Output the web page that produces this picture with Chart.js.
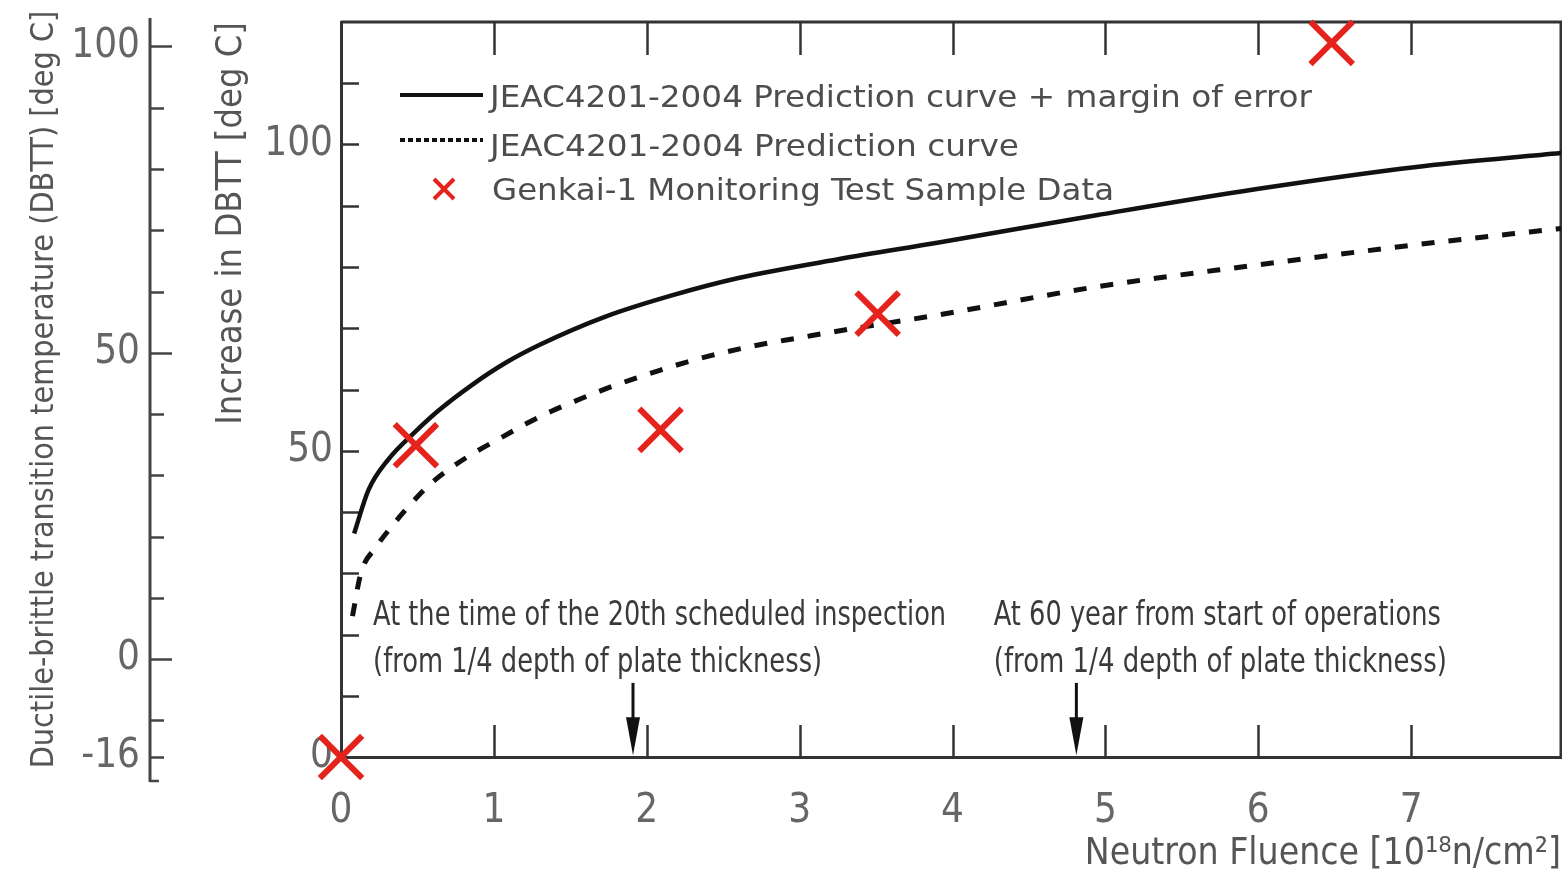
<!DOCTYPE html>
<html><head><meta charset="utf-8">
<script src="https://cdn.jsdelivr.net/npm/chart.js@4.4.1/dist/chart.umd.min.js"></script>
<style>html,body{margin:0;padding:0;background:#fff;overflow:hidden}#wrap{width:1562px;height:877px;position:relative}</style>
</head><body><div id="wrap"><canvas id="c"></canvas></div>
<script>
// ---- data ----
const fluenceMargin = [0.086, 0.18, 0.31, 0.49, 0.64, 0.86, 1.08, 1.30, 1.73, 2.17, 2.60, 3.26, 3.91, 4.95, 5.98, 7.02, 7.98];
const dbttMargin    = [36.5, 43.6, 48.6, 53.2, 56.6, 60.8, 64.4, 67.3, 71.9, 75.4, 78.2, 81.3, 84.0, 88.5, 92.7, 96.3, 98.6];
const fluencePred = [0.075, 0.13, 0.23, 0.33, 0.46, 0.59, 0.73, 0.88, 1.06, 1.21, 1.38, 1.56, 1.73, 1.91, 2.08, 2.25, 2.43, 2.62, 2.80, 2.99, 3.17, 3.91, 4.95, 5.98, 7.02, 7.98];
const dbttPred    = [23.0, 30.0, 34.3, 37.6, 41.4, 44.7, 47.4, 49.8, 52.3, 54.4, 56.5, 58.4, 60.1, 61.7, 63.1, 64.4, 65.6, 66.7, 67.6, 68.4, 69.2, 72.2, 76.8, 80.3, 83.6, 86.3];
const sampleFluence = [0, 0.49, 2.09, 3.51, 6.48];
const sampleDbtt    = [0, 50.9, 53.4, 72.4, 116.6];
const xTickValues = [0, 1, 2, 3, 4, 5, 6, 7];
const innerTickValues = [0, 10, 20, 30, 40, 50, 60, 70, 80, 90, 100, 110];
const innerLabelValues = [0, 50, 100];
const outerTickValues = [-16, -10, 0, 10, 20, 30, 40, 50, 60, 70, 80, 90, 100];
const outerLabelValues = [-16, 0, 50, 100];
const legendLabels = ['JEAC4201-2004 Prediction curve + margin of error', 'JEAC4201-2004 Prediction curve', 'Genkai-1 Monitoring Test Sample Data'];
const arrowFluence = [1.91, 4.81];
const noteLines = [
  ['At the time of the 20th scheduled inspection', '(from 1/4 depth of plate thickness)'],
  ['At 60 year from start of operations', '(from 1/4 depth of plate thickness)']
];
const xTitle = 'Neutron Fluence [10\u00b9\u2078n/cm\u00b2]';
const yInnerTitle = 'Increase in DBTT [deg C]';
const yOuterTitle = 'Ductile-brittle transition temperature (DBTT) [deg C]';

// ---- styles ----
const NARROW = "'Liberation Sans Narrow', 'DejaVu Sans Condensed', sans-serif";
const COND = "'DejaVu Sans Condensed', 'DejaVu Sans', sans-serif";
const RED = '#e5231d';
const AX = '#333';
const tickFont = { family: COND, size: 40 };

const toXY = (xs, ys) => xs.map((v, i) => ({ x: v, y: ys[i] }));
const noPad = s => { s.paddingTop = 0; s.paddingBottom = 0; s.paddingLeft = 0; s.paddingRight = 0; };

function fitText(ctx, text, x, y, width) {
  const w = ctx.measureText(text).width;
  ctx.save();
  ctx.translate(x, y);
  ctx.scale(width / w, 1);
  ctx.fillText(text, 0, 0);
  ctx.restore();
}

const frame = {
  id: 'frame',
  beforeDatasetsDraw(chart) {
    const { ctx, chartArea: ca, scales: { x, y, y2 } } = chart;
    ctx.save();
    ctx.strokeStyle = AX; ctx.lineWidth = 3; ctx.lineCap = 'butt';
    ctx.beginPath();
    ctx.moveTo(ca.left, ca.top); ctx.lineTo(ca.right, ca.top); ctx.lineTo(ca.right, ca.bottom);
    ctx.stroke();
    ctx.lineWidth = 2.5;
    xTickValues.forEach(v => {
      if (v === 0) return;
      const px = Math.round(x.getPixelForValue(v)) + 0.5;
      ctx.beginPath(); ctx.moveTo(px, ca.bottom); ctx.lineTo(px, ca.bottom - 32); ctx.stroke();
      ctx.beginPath(); ctx.moveTo(px, ca.top); ctx.lineTo(px, ca.top + 33); ctx.stroke();
    });
    innerTickValues.forEach(v => {
      if (v === 0) return;
      const py = Math.round(y.getPixelForValue(v)) + 0.5;
      ctx.beginPath(); ctx.moveTo(ca.left, py); ctx.lineTo(ca.left + 18, py); ctx.stroke();
    });
    const ox = y2.right;
    ctx.strokeStyle = '#444'; ctx.lineWidth = 3;
    ctx.beginPath(); ctx.moveTo(ox, ca.top - 4); ctx.lineTo(ox, ca.bottom + 25); ctx.stroke();
    ctx.lineWidth = 2.5;
    outerTickValues.forEach(v => {
      const py = Math.round(y2.getPixelForValue(v)) + 0.5;
      const len = outerLabelValues.includes(v) && v !== -16 ? 22 : 14;
      ctx.beginPath(); ctx.moveTo(ox, py); ctx.lineTo(ox + len, py); ctx.stroke();
    });
    ctx.beginPath(); ctx.moveTo(ox, ca.bottom + 24); ctx.lineTo(ox + 9, ca.bottom + 24); ctx.stroke();
    ctx.restore();
  },
  afterDatasetsDraw(chart) {
    const { ctx, chartArea: ca, scales: { x, y } } = chart;
    ctx.save();
    // legend
    const lx = ca.left + 59, lw = 83;
    const rows = [ca.top + 73, ca.top + 118, ca.top + 166];
    ctx.strokeStyle = '#111'; ctx.lineWidth = 4;
    ctx.beginPath(); ctx.moveTo(lx, rows[0]); ctx.lineTo(lx + lw, rows[0]); ctx.stroke();
    ctx.setLineDash([5, 3]);
    ctx.beginPath(); ctx.moveTo(lx, rows[1]); ctx.lineTo(lx + lw, rows[1]); ctx.stroke();
    ctx.setLineDash([]);
    ctx.strokeStyle = RED; ctx.lineWidth = 4;
    const mx = lx + 44, my = rows[2] + 1, h = 10;
    ctx.beginPath(); ctx.moveTo(mx - h, my - h); ctx.lineTo(mx + h, my + h); ctx.moveTo(mx + h, my - h); ctx.lineTo(mx - h, my + h); ctx.stroke();
    ctx.fillStyle = '#4d4d4d';
    ctx.font = `31px ${COND}`;
    ctx.textBaseline = 'alphabetic';
    const widths = [822, 529, 622];
    fitText(ctx, legendLabels[0], ca.left + 149, ca.top + 85, widths[0]);
    fitText(ctx, legendLabels[1], ca.left + 149, ca.top + 134, widths[1]);
    fitText(ctx, legendLabels[2], ca.left + 151, ca.top + 178, widths[2]);
    // annotations
    ctx.fillStyle = '#3a3a3a';
    ctx.font = `33px ${NARROW}`;
    const noteX = [0.21, 4.27];
    const noteW = [[573, 449], [447, 453]];
    noteLines.forEach((lines, i) => {
      const px = x.getPixelForValue(noteX[i]);
      fitText(ctx, lines[0], px, y.getPixelForValue(21.6), noteW[i][0]);
      fitText(ctx, lines[1], px, y.getPixelForValue(13.8), noteW[i][1]);
    });
    // arrows
    ctx.strokeStyle = '#111'; ctx.fillStyle = '#111'; ctx.lineWidth = 3;
    arrowFluence.forEach(v => {
      const px = x.getPixelForValue(v);
      const top = y.getPixelForValue(12.1), tip = y.getPixelForValue(0.3);
      ctx.beginPath(); ctx.moveTo(px, top); ctx.lineTo(px, tip - 30); ctx.stroke();
      ctx.beginPath(); ctx.moveTo(px - 7, tip - 38); ctx.lineTo(px + 7, tip - 38); ctx.lineTo(px, tip); ctx.closePath(); ctx.fill();
    });
    ctx.restore();
  }
};

new Chart(document.getElementById('c'), {
  type: 'scatter',
  data: {
    datasets: [
      { label: legendLabels[2], data: toXY(sampleFluence, sampleDbtt), yAxisID: 'y', xAxisID: 'x',
        pointStyle: 'crossRot', pointRadius: 30, pointBorderWidth: 6, pointBorderColor: RED, pointBackgroundColor: RED,
        pointHoverRadius: 30, showLine: false, clip: false },
      { label: legendLabels[0], data: toXY(fluenceMargin, dbttMargin), yAxisID: 'y', xAxisID: 'x',
        showLine: true, borderColor: '#111', borderWidth: 4.5, pointRadius: 0, cubicInterpolationMode: 'monotone', fill: false },
      { label: legendLabels[1], data: toXY(fluencePred, dbttPred), yAxisID: 'y', xAxisID: 'x',
        showLine: true, borderColor: '#111', borderWidth: 5, borderDash: [13, 14], borderCapStyle: 'butt',
        pointRadius: 0, cubicInterpolationMode: 'monotone', fill: false }
    ]
  },
  options: {
    responsive: true, maintainAspectRatio: false, animation: false,
    devicePixelRatio: 1,
    layout: { autoPadding: false, padding: { left: 0, top: 22, right: 1, bottom: 0 } },
    plugins: { legend: { display: false }, tooltip: { enabled: false } },
    events: [],
    scales: {
      x: {
        type: 'linear', position: 'bottom', min: 0, max: 7.98,
        afterBuildTicks: s => { s.ticks = xTickValues.map(v => ({ value: v })); },
        ticks: { font: tickFont, color: '#666', padding: 31, autoSkip: false, maxRotation: 0, includeBounds: false },
        grid: { display: false, drawTicks: false },
        border: { display: true, color: AX, width: 3 },
        title: { display: true, text: xTitle, align: 'end', color: '#555', font: { family: COND, size: 37 }, padding: { top: 0, bottom: 0 } },
        afterFit: s => { s.height = 120; noPad(s); }
      },
      y: {
        type: 'linear', position: 'left', min: 0, max: 120, weight: 1,
        afterBuildTicks: s => { s.ticks = innerTickValues.concat([120]).map(v => ({ value: v })); },
        ticks: { font: tickFont, color: '#666', padding: 8, autoSkip: false, includeBounds: false,
          callback: v => innerLabelValues.includes(v) ? String(v) : '' },
        grid: { display: false, drawTicks: false },
        border: { display: true, color: AX, width: 3 },
        title: { display: true, text: yInnerTitle, align: 'end', color: '#555', font: { family: NARROW, size: 36 }, padding: { top: 60, bottom: 0 } },
        afterFit: s => { s.width = 191; noPad(s); }
      },
      y2: {
        type: 'linear', position: 'left', min: -16, max: 104, weight: 2,
        afterBuildTicks: s => { s.ticks = outerTickValues.map(v => ({ value: v })); },
        ticks: { font: tickFont, color: '#666', padding: 10, autoSkip: false, includeBounds: false,
          callback: v => outerLabelValues.includes(v) ? String(v) : '' },
        grid: { display: false, drawTicks: false },
        border: { display: false },
        title: { display: true, text: yOuterTitle, align: 'center', color: '#555', font: { family: NARROW, size: 32 }, padding: { top: 25, bottom: 0 } },
        afterFit: s => { s.width = 150; noPad(s); }
      }
    }
  },
  plugins: [frame]
});
</script>
</body></html>
